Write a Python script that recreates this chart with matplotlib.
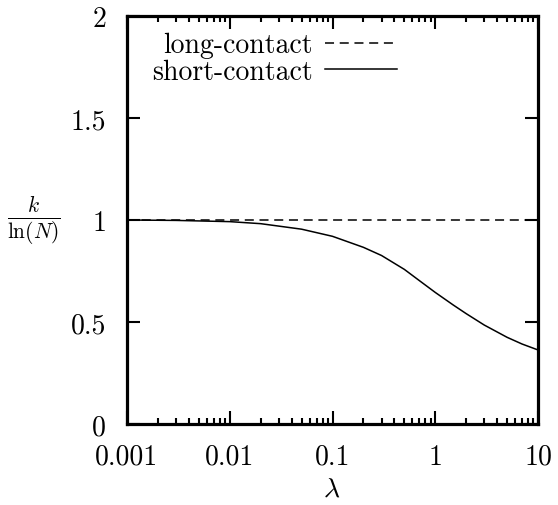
import numpy as np
import matplotlib
matplotlib.use("Agg")
import matplotlib.pyplot as plt

plt.rcParams['font.family'] = 'serif'
plt.rcParams['font.serif'] = ['cmr10', 'DejaVu Serif']
plt.rcParams['mathtext.fontset'] = 'cm'
plt.rcParams['axes.formatter.use_mathtext'] = True
plt.rcParams['lines.scale_dashes'] = False

# lambda values and k/ln(N) for both models
lam = [0.001, 0.003, 0.01, 0.02, 0.05, 0.1, 0.2, 0.3, 0.5, 0.7, 1.0, 1.5, 2.0, 3.0, 5.0, 7.0, 10.0]
short_contact = [1.000, 0.998, 0.992, 0.982, 0.955, 0.920, 0.866, 0.826, 0.758, 0.703,
                 0.645, 0.583, 0.541, 0.485, 0.425, 0.392, 0.363]
long_contact = [1.0] * len(lam)

x_ticks = [0.001, 0.01, 0.1, 1, 10]
x_labels = ['0.001', '0.01', '0.1', '1', '10']
y_ticks = [0, 0.5, 1, 1.5, 2]
y_labels = ['0', '0.5', '1', '1.5', '2']

fig = plt.figure(figsize=(5.58, 5.06), dpi=100)
ax = fig.add_axes([127 / 558, 1 - 425 / 506, 411 / 558, 408 / 506])

ax.plot(lam, long_contact, color='black', lw=1.1, dashes=(6.5, 4.1), label='long-contact')
ax.plot(lam, short_contact, color='black', lw=1.1, label='short-contact')

ax.set_xscale('log')
ax.set_xlim(0.001, 10)
ax.set_ylim(0, 2)
ax.set_xticks(x_ticks)
ax.set_xticklabels(x_labels)
ax.set_yticks(y_ticks)
ax.set_yticklabels(y_labels)
ax.yaxis.set_minor_locator(matplotlib.ticker.NullLocator())

for s in ax.spines.values():
    s.set_linewidth(2.3)
ax.tick_params(which='both', direction='in', top=True, right=True, width=1.5, labelsize=20)
ax.tick_params(which='major', length=9.5)
ax.tick_params(which='minor', length=4.5)
ax.tick_params(axis='x', pad=14)
ax.tick_params(axis='y', pad=15)

# axis labels placed by hand, gnuplot-like
fig.text(332 / 558, 1 - 497 / 506, r'$\lambda$', fontsize=20, ha='center', va='baseline')
fig.text(34 / 558, 1 - 221 / 506, r'$\frac{k}{\ln(N)}$', fontsize=22, ha='center', va='center')

ax.legend(loc='upper right', bbox_to_anchor=(397 / 558, 1 - 33 / 506), bbox_transform=fig.transFigure,
          frameon=False, markerfirst=False, fontsize=20, handlelength=2.6, handletextpad=0.43,
          borderpad=0, borderaxespad=0, labelspacing=0.0)

fig.savefig('out.png', dpi=100)
